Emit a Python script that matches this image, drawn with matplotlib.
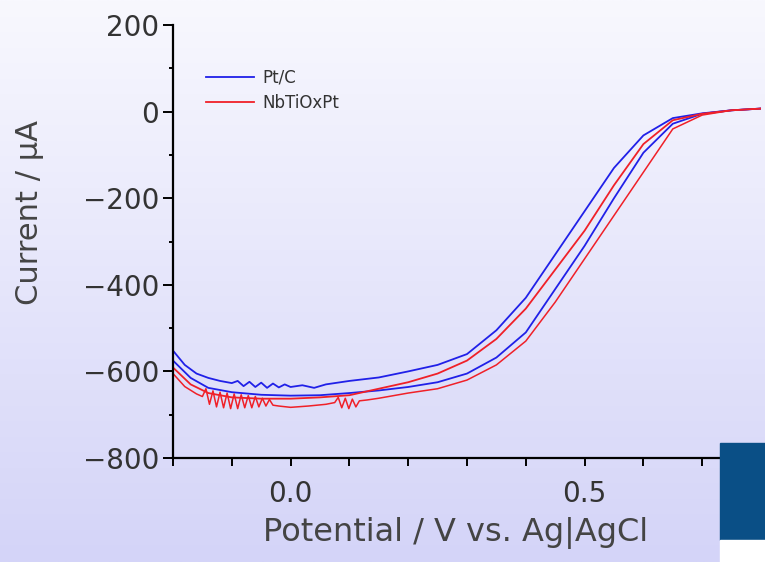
import numpy as np
import matplotlib
matplotlib.use("Agg")
import matplotlib.pyplot as plt
from matplotlib.patches import Rectangle
from matplotlib.ticker import MultipleLocator

# ---- data ----
ptc_up_x = [-0.20, -0.18, -0.16, -0.14, -0.12, -0.10, -0.09, -0.08, -0.07, -0.06, -0.05, -0.04,
            -0.03, -0.02, -0.01, 0.0, 0.02, 0.04, 0.06, 0.10, 0.15,
            0.20, 0.25, 0.30, 0.35, 0.40, 0.45, 0.50, 0.55, 0.60, 0.65, 0.70, 0.75, 0.80]
ptc_up_y = [-552, -585, -605, -615, -622, -627, -622, -634, -624, -636, -626, -638,
            -628, -637, -630, -636, -632, -638, -630, -622, -614,
            -600, -585, -560, -505, -430, -330, -230, -130, -55, -15, -4, 3, 7]
ptc_dn_x = [-0.20, -0.17, -0.14, -0.10, -0.05, 0.0, 0.05, 0.10, 0.15, 0.20, 0.25, 0.30,
            0.35, 0.40, 0.45, 0.50, 0.55, 0.60, 0.65, 0.70, 0.75, 0.80]
ptc_dn_y = [-575, -615, -638, -648, -654, -656, -655, -650, -644, -636, -625, -605,
            -568, -510, -410, -310, -200, -95, -28, -5, 3, 7]

nb_up_x = [-0.20, -0.17, -0.14, -0.10, -0.05, 0.0, 0.05, 0.10, 0.15, 0.20, 0.25, 0.30,
           0.35, 0.40, 0.45, 0.50, 0.55, 0.60, 0.65, 0.70, 0.75, 0.80]
nb_up_y = [-591, -630, -650, -660, -663, -663, -660, -655, -640, -625, -605, -575,
           -525, -455, -365, -275, -170, -75, -20, -5, 3, 7]
nb_dn_x = [-0.20, -0.18, -0.16, -0.15, -0.144, -0.138, -0.132, -0.126, -0.12, -0.114, -0.108,
           -0.102, -0.096, -0.09, -0.084, -0.078, -0.072, -0.066, -0.06, -0.054, -0.048,
           -0.042, -0.036, -0.03, -0.02, 0.0, 0.03, 0.06, 0.075, 0.081, 0.087, 0.093, 0.099,
           0.105, 0.111, 0.117, 0.13, 0.15,
           0.20, 0.25, 0.30, 0.35, 0.40, 0.45, 0.50, 0.55, 0.60, 0.65, 0.70, 0.75, 0.80]
nb_dn_y = [-605, -635, -652, -658, -640, -676, -645, -682, -648, -684, -650, -686,
           -652, -686, -654, -684, -656, -684, -658, -682, -662,
           -680, -665, -678, -680, -683, -680, -676, -672, -660, -684, -662, -686,
           -664, -682, -668, -666, -662,
           -650, -640, -620, -585, -530, -440, -340, -240, -140, -40, -8, 3, 7]

x_ticks = [0.0, 0.5]
y_ticks = [200, 0, -200, -400, -600, -800]
series_labels = ["Pt/C", "NbTiOxPt"]

# ---- figure ----
W, H, DPI = 765, 562, 100
fig = plt.figure(figsize=(W / DPI, H / DPI), dpi=DPI)

# gradient background
bg = fig.add_axes([0, 0, 1, 1], zorder=-10)
top = np.array([248, 248, 254]) / 255
bot = np.array([212, 212, 248]) / 255
t = np.linspace(0, 1, 256)[:, None]
grad = (top * (1 - t) + bot * t)[:, None, :].repeat(2, axis=1)
bg.imshow(grad, aspect="auto", extent=[0, 1, 0, 1], origin="upper")
bg.set_axis_off()

ax = fig.add_axes([173 / W, 1 - 458 / H, (761 - 173) / W, (458 - 25) / H])
ax.patch.set_alpha(0)
blue, red = "#2020e8", "#f02028"
ax.plot(ptc_up_x, ptc_up_y, color=blue, lw=1.3, label=series_labels[0])
ax.plot(ptc_dn_x, ptc_dn_y, color=blue, lw=1.3)
ax.plot(nb_up_x, nb_up_y, color=red, lw=1.3, label=series_labels[1])
ax.plot(nb_dn_x, nb_dn_y, color=red, lw=1.1)

ax.set_xlim(-0.2, 0.8)
ax.set_ylim(-800, 200)
ax.set_xticks(x_ticks)
ax.set_xticklabels(["0.0", "0.5"])
ax.set_yticks(y_ticks)
ax.set_yticklabels([f"{v}".replace("-", "\u2212") for v in y_ticks])
ax.xaxis.set_minor_locator(MultipleLocator(0.1))
ax.yaxis.set_minor_locator(MultipleLocator(100))
for s in ["top", "right"]:
    ax.spines[s].set_visible(False)
for s in ["left", "bottom"]:
    ax.spines[s].set_linewidth(1.6)
ax.tick_params(axis="both", which="major", length=7, width=1.4, labelsize=20,
               labelcolor="#333333", pad=3)
ax.tick_params(axis="x", which="minor", length=6, width=1.4)
ax.tick_params(axis="y", which="minor", length=3, width=1.4)
ax.tick_params(axis="x", which="major", length=6, pad=10)

ax.set_xlabel("Potential / V vs. Ag|AgCl", fontsize=23, color="#444444")
ax.set_ylabel("Current / \u03bcA", fontsize=22, color="#444444")
ax.xaxis.set_label_coords(0.48, -0.136)
ax.yaxis.set_label_coords(-0.22, 0.568)

leg = ax.legend(loc="upper left", bbox_to_anchor=(0.045, 0.915), frameon=False,
                fontsize=12, handlelength=2.9, handletextpad=0.5, labelspacing=0.45,
                borderaxespad=0)
for txt in leg.get_texts():
    txt.set_color("#333333")

# slide decoration at bottom right
fig.patches.append(Rectangle((720 / W, 1 - 540 / H), 45 / W, 97 / H,
                             transform=fig.transFigure, color="#0a4f86", zorder=5))
fig.patches.append(Rectangle((720 / W, 0), 45 / W, 22 / H,
                             transform=fig.transFigure, color="white", zorder=5))

fig.savefig("out.png", dpi=DPI)
